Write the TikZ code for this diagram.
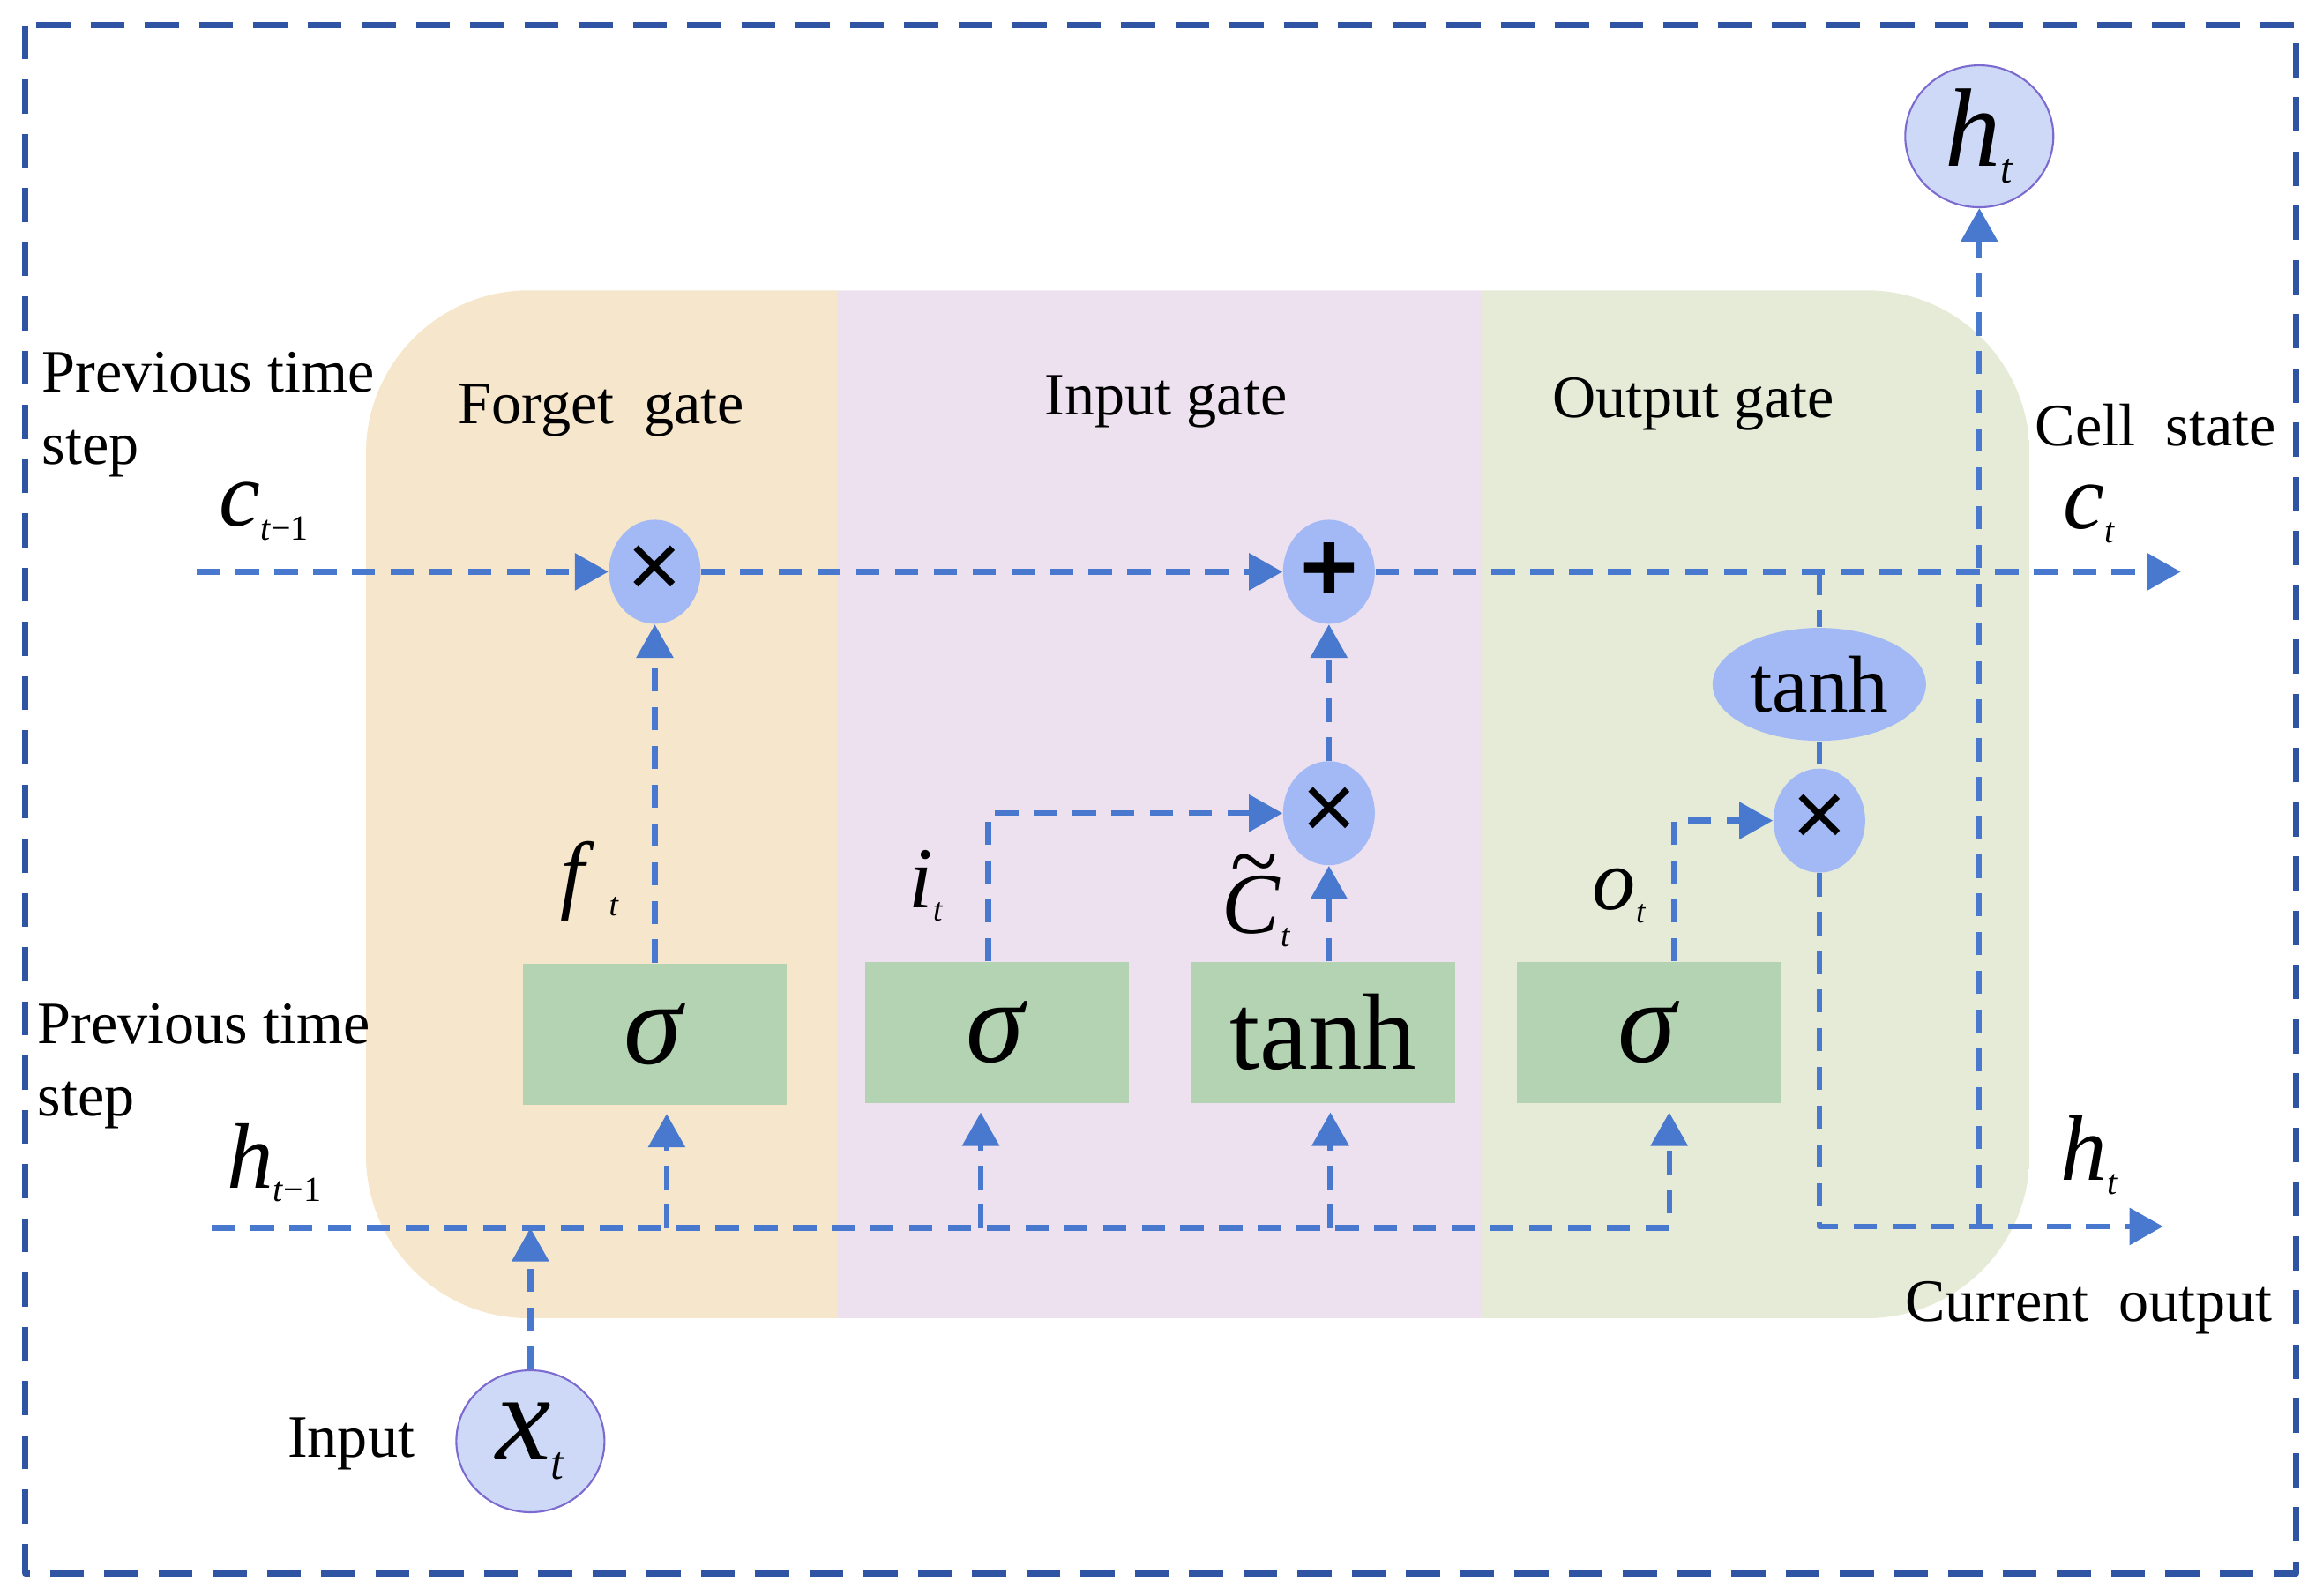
\documentclass[tikz,border=0pt]{standalone}
\usepackage{fontspec}
\setmainfont{Liberation Serif}
\newfontfamily\symfont{Liberation Sans}
\usetikzlibrary{arrows.meta,shapes.geometric,positioning}
\definecolor{forgetbg}{RGB}{246,230,203}
\definecolor{inputbg}{RGB}{237,225,239}
\definecolor{outputbg}{RGB}{230,235,216}
\definecolor{boxc}{RGB}{179,211,179}
\definecolor{opc}{RGB}{162,185,245}
\definecolor{ioc}{RGB}{205,217,246}
\definecolor{iodraw}{RGB}{123,106,208}
\definecolor{flowc}{RGB}{72,121,207}
\definecolor{framec}{RGB}{47,84,163}
\newcommand{\vlab}[2]{\textit{#1}\raisebox{-0.15em}{\scalebox{0.38}{#2}}}
\begin{document}
\begin{tikzpicture}[x=0.168mm, y=-0.168mm, line join=round,
    font=\fontsize{19.4}{23.4}\selectfont,
    flow/.style={draw=flowc, line width=1.8pt, dash pattern=on 7.5pt off 5pt},
    arr/.style={flow, -{Triangle[length=3.8mm,width=4.1mm]}},
    upin/.style={arr, shorten >=1mm},
    op/.style={ellipse, fill=opc, minimum width=10.4mm, minimum height=11.8mm, inner sep=0pt, font=\symfont\fontsize{30}{30}\selectfont},
    gatebox/.style={rectangle, fill=boxc, minimum width=29.9mm, minimum height=16mm, inner sep=0pt},
    io/.style={ellipse, fill=ioc, draw=iodraw, line width=0.6pt, minimum width=16.8mm, minimum height=16.1mm, inner sep=0pt},
    varlab/.style={font=\fontsize{30}{30}\selectfont, inner sep=0pt},
    gatelab/.style={font=\fontsize{28}{28}\selectfont, inner sep=0pt},
    txt/.style={inner sep=0pt}]
\useasboundingbox (0,0) rectangle (1568,1077);
% outer frame
\draw[framec, line width=2.1pt, dash pattern=on 11pt off 6.5pt] (17,17) rectangle (1550,1062);
% cell background
\begin{scope}
  \clip[rounded corners=18.5mm] (247,196) rectangle (1370,890);
  \fill[forgetbg] (247,196) rectangle (565,890);
  \fill[inputbg] (565,196) rectangle (1000,890);
  \fill[outputbg] (1000,196) rectangle (1370,890);
\end{scope}
% operations
\node[op] (mulf) at (442,386) {×};
\node[op, font=\symfont\bfseries\fontsize{32}{32}\selectfont] (addc) at (897,386) {+};
\node[op] (muli) at (897,549) {×};
\node[op] (mulo) at (1228,554) {×};
\node[ellipse, fill=opc, minimum width=24.2mm, minimum height=12.8mm, inner sep=0pt, font=\fontsize{26}{26}\selectfont] (tanhc) at (1228,462) {tanh};
% gate layers
\node[gatebox] (sigf) at (442,698) {\fontsize{38}{38}\selectfont\textit{σ}};
\node[gatebox] (sigi) at (673,697) {\fontsize{38}{38}\selectfont\textit{σ}};
\node[gatebox] (tanhi) at (893,697) {\fontsize{35}{35}\selectfont tanh};
\node[gatebox] (sigo) at (1113,697) {\fontsize{38}{38}\selectfont\textit{σ}};
% input and output
\node[io] (ht) at (1336,92) {\fontsize{36}{36}\selectfont\vlab{h}{\textit{t}}};
\node[io] (xt) at (358,973) {\fontsize{40}{40}\selectfont\vlab{x}{\textit{t}}};
\coordinate (cin) at (133,386);
\coordinate (cout) at (1472,386);
\coordinate (hin) at (143,829);
\coordinate (hout) at (1460,828);
% cell state
\draw[arr] (cin) -- (mulf);
\draw[arr] (mulf) -- (addc);
\draw[arr] (addc) -- (cout);
% gates
\draw[arr] (sigf) -- (mulf);
\draw[arr] ([xshift=-1mm]sigi.north) |- (muli);
\draw[arr] (tanhi.north -| muli) -- (muli);
\draw[arr] (muli) -- (addc);
\draw[arr] ([xshift=2.8mm]sigo.north) |- (mulo);
\draw[flow] (tanhc.north |- addc) -- (tanhc);
\draw[flow] (tanhc) -- (mulo);
\draw[arr] (mulo) |- (hout);
\draw[arr] (ht |- hout) -- (ht);
% previous output
\draw[upin] (hin) -| ([xshift=2.3mm]sigo.south);
\draw[upin] (450,829) -- (450,829 |- sigf.south);
\draw[upin] (662,829) -- (662,829 |- sigi.south);
\draw[upin] (898,829) -- (898,829 |- tanhi.south);
\draw[arr] (xt) -- (xt |- hin);
% labels
\node[txt, anchor=west, align=left] (prevc) at (28,280) {Previous time\\step};
\node[txt, anchor=west, align=left] (prevh) at (25,720) {Previous time\\step};
\node[varlab] (lct1) at (178,345) {\vlab{c}{\textit{t}−1}};
\node[varlab] (lht1) at (185,785) {\vlab{h}{\textit{t}−1}};
\node[txt] (lforget) at (406,277) {Forget\ \ gate};
\node[txt] (linput) at (787,271) {Input gate};
\node[txt] (loutput) at (1143,273) {Output gate};
\node[txt] (lcell) at (1455,287) {Cell\ \ state};
\node[varlab] (lct) at (1410,347) {\vlab{c}{\textit{t}}};
\node[varlab] (lht) at (1410,780) {\vlab{h}{\textit{t}}};
\node[txt] (lcur) at (1410,883) {Current\ \ output};
\node[txt] (linp) at (237,975) {Input};
\node[gatelab] (lft) at (398,595) {\textit{f}\,\vlab{}{\textit{t}}};
\node[gatelab] (lit) at (625,598) {\vlab{i}{\textit{t}}};
\node[gatelab] (lctil) at (848,608) {\rlap{\raisebox{0.5em}{\hspace{0.1em}\textasciitilde}}\vlab{C}{\textit{t}}};
\node[gatelab] (lot) at (1093,605) {\vlab{o}{\textit{t}}};
\end{tikzpicture}
\end{document}
